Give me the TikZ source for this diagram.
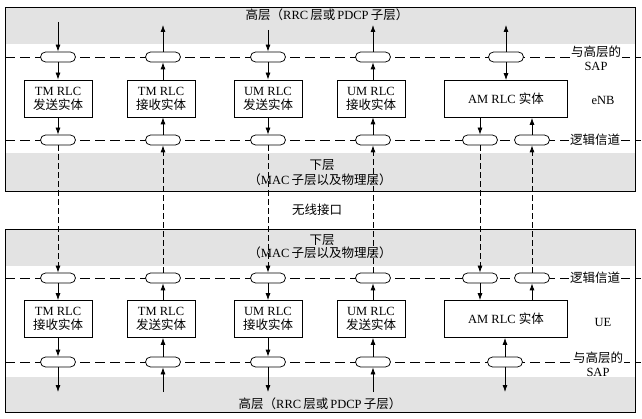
\documentclass[tikz,border=0pt]{standalone}
\usepackage{fontspec}
\setmainfont{Liberation Serif}
\newfontfamily\cjk{Noto Sans CJK SC}
\newcommand{\zh}[1]{{\cjk #1}}
\usetikzlibrary{arrows.meta,shapes.misc}
\tikzset{
  ent/.style={draw,fill=white,minimum width=68pt,minimum height=37pt,align=center,inner sep=1pt},
  amrlc/.style={ent,minimum width=123pt},
  sapo/.style={draw,fill=white,rounded rectangle,minimum width=35pt,minimum height=10pt,inner sep=0pt},
  arr/.style={-{Latex[length=7pt,width=5pt]}},
  hline/.style={dash pattern=on 10pt off 5pt},
  vline/.style={dash pattern=on 6pt off 3pt},
  band/.style={fill=black!11,draw=none},
  side/.style={fill=white,align=center,inner sep=1pt}
}
\begin{document}
\begin{tikzpicture}[x=1pt,y=-1pt,line width=0.75pt,font=\fontsize{12.5}{14}\selectfont]
\useasboundingbox (0,0) rectangle (642,419);
% eNB side
\fill[band] (5,7) rectangle (635,44);
\fill[band] (5,153) rectangle (635,191);
\draw (5,7) rectangle (635,191);
\draw[hline] (5,57) -- (641,57);
\draw[hline] (5,140) -- (641,140);
\node (hi1) at (327,15) {\zh{高层（}RRC\,\zh{层或}\,PDCP\,\zh{子层）}};
\node (lo1) at (322,165) {\zh{下层}};
\node (lo2) at (320,180) {\zh{（}MAC\,\zh{子层以及物理层）}};
\node[side] (sap1) at (596,58) {\zh{与高层的}\\SAP};
\node (enb) at (603,100) {eNB};
\node[side] (lch1) at (595,140) {\zh{逻辑信道}};
% SAP ovals and entities
\node[sapo] (es1) at (58,57) {};
\node[sapo] (es2) at (163,57) {};
\node[sapo] (es3) at (268,57) {};
\node[sapo] (es4) at (373,57) {};
\node[sapo] (es5) at (506,57) {};
\node[ent] (eb1) at (58,98.5) {TM RLC\\\zh{发送实体}};
\node[ent] (eb2) at (161,98.5) {TM RLC\\\zh{接收实体}};
\node[ent] (eb3) at (268,98.5) {UM RLC\\\zh{发送实体}};
\node[ent] (eb4) at (371,98.5) {UM RLC\\\zh{接收实体}};
\node[amrlc] (eb5) at (506,99) {AM RLC \zh{实体}};
\node[sapo] (el1) at (58,140) {};
\node[sapo] (el2) at (163,140) {};
\node[sapo] (el3) at (268,140) {};
\node[sapo] (el4) at (373,140) {};
\node[sapo] (el5) at (480,140) {};
\node[sapo] (el6) at (532,140) {};
\coordinate (t1) at (58,22);
\coordinate (t2) at (163,25);
\coordinate (t3) at (268,30);
\coordinate (t4) at (373,25);
\coordinate (t5) at (506,25);
\draw[arr] (t1) -- (es1.north);
\draw[arr] (es1.south) -- (eb1.north -| es1);
\draw[arr] (eb1.south -| el1) -- (el1.north);
\draw[arr] (es2.north) -- (t2);
\draw[arr] (eb2.north -| es2) -- (es2.south);
\draw[arr] (el2.north) -- (eb2.south -| el2);
\draw[arr] (t3) -- (es3.north);
\draw[arr] (es3.south) -- (eb3.north -| es3);
\draw[arr] (eb3.south -| el3) -- (el3.north);
\draw[arr] (es4.north) -- (t4);
\draw[arr] (eb4.north -| es4) -- (es4.south);
\draw[arr] (el4.north) -- (eb4.south -| el4);
\draw[arr] (es5.north) -- (t5);
\draw[arr] (es5.south) -- (eb5.north);
\draw[arr] (eb5.south -| el5) -- (el5.north);
\draw[arr] (el6.north) -- (eb5.south -| el6);
% radio interface
\node (air) at (317,210) {\zh{无线接口}};
% UE side
\fill[band] (5,229) rectangle (635,266);
\fill[band] (5,377) rectangle (635,412);
\draw (5,229) rectangle (635,412);
\draw[hline] (5,278) -- (641,278);
\draw[hline] (5,362) -- (641,362);
\node (lo3) at (322,240) {\zh{下层}};
\node (lo4) at (320,253) {\zh{（}MAC\,\zh{子层以及物理层）}};
\node (hi2) at (320,404) {\zh{高层（}RRC\,\zh{层或}\,PDCP\,\zh{子层）}};
\node[side] (lch2) at (595,278) {\zh{逻辑信道}};
\node (ue) at (603,322) {UE};
\node[side] (sap2) at (598,364) {\zh{与高层的}\\SAP};
\node[sapo] (ul1) at (58,278) {};
\node[sapo] (ul2) at (163,278) {};
\node[sapo] (ul3) at (268,278) {};
\node[sapo] (ul4) at (373,278) {};
\node[sapo] (ul5) at (480,278) {};
\node[sapo] (ul6) at (532,278) {};
\node[ent] (ub1) at (58,319) {TM RLC\\\zh{接收实体}};
\node[ent] (ub2) at (161,319) {TM RLC\\\zh{发送实体}};
\node[ent] (ub3) at (268,319) {UM RLC\\\zh{接收实体}};
\node[ent] (ub4) at (371,319) {UM RLC\\\zh{发送实体}};
\node[amrlc] (ub5) at (506,319) {AM RLC \zh{实体}};
\node[sapo] (us1) at (58,362) {};
\node[sapo] (us2) at (163,362) {};
\node[sapo] (us3) at (268,362) {};
\node[sapo] (us4) at (373,362) {};
\node[sapo] (us5) at (505,362) {};
\coordinate (b1) at (58,392);
\coordinate (b2) at (163,392);
\coordinate (b3) at (268,392);
\coordinate (b4) at (373,392);
\coordinate (b5) at (505,392);
\draw[arr] (ul1.south) -- (ub1.north -| ul1);
\draw[arr] (ub1.south -| us1) -- (us1.north);
\draw[arr] (us1.south) -- (b1);
\draw[arr] (b2) -- (us2.south);
\draw[arr] (us2.north) -- (ub2.south -| us2);
\draw[arr] (ub2.north -| ul2) -- (ul2.south);
\draw[arr] (ul3.south) -- (ub3.north -| ul3);
\draw[arr] (ub3.south -| us3) -- (us3.north);
\draw[arr] (us3.south) -- (b3);
\draw[arr] (b4) -- (us4.south);
\draw[arr] (us4.north) -- (ub4.south -| us4);
\draw[arr] (ub4.north -| ul4) -- (ul4.south);
\draw[arr] (ul5.south) -- (ub5.north -| ul5);
\draw[arr] (ub5.north -| ul6) -- (ul6.south);
\draw[arr] (us5.north) -- (ub5.south -| us5);
\draw[arr] (us5.south) -- (b5);
% logical channels across the air
\draw[vline,arr] (el1.south) -- (ul1.north);
\draw[vline,arr] (ul2.north) -- (el2.south);
\draw[vline,arr] (el3.south) -- (ul3.north);
\draw[vline,arr] (ul4.north) -- (el4.south);
\draw[vline,arr] (el5.south) -- (ul5.north);
\draw[vline,arr] (ul6.north) -- (el6.south);
\end{tikzpicture}
\end{document}
